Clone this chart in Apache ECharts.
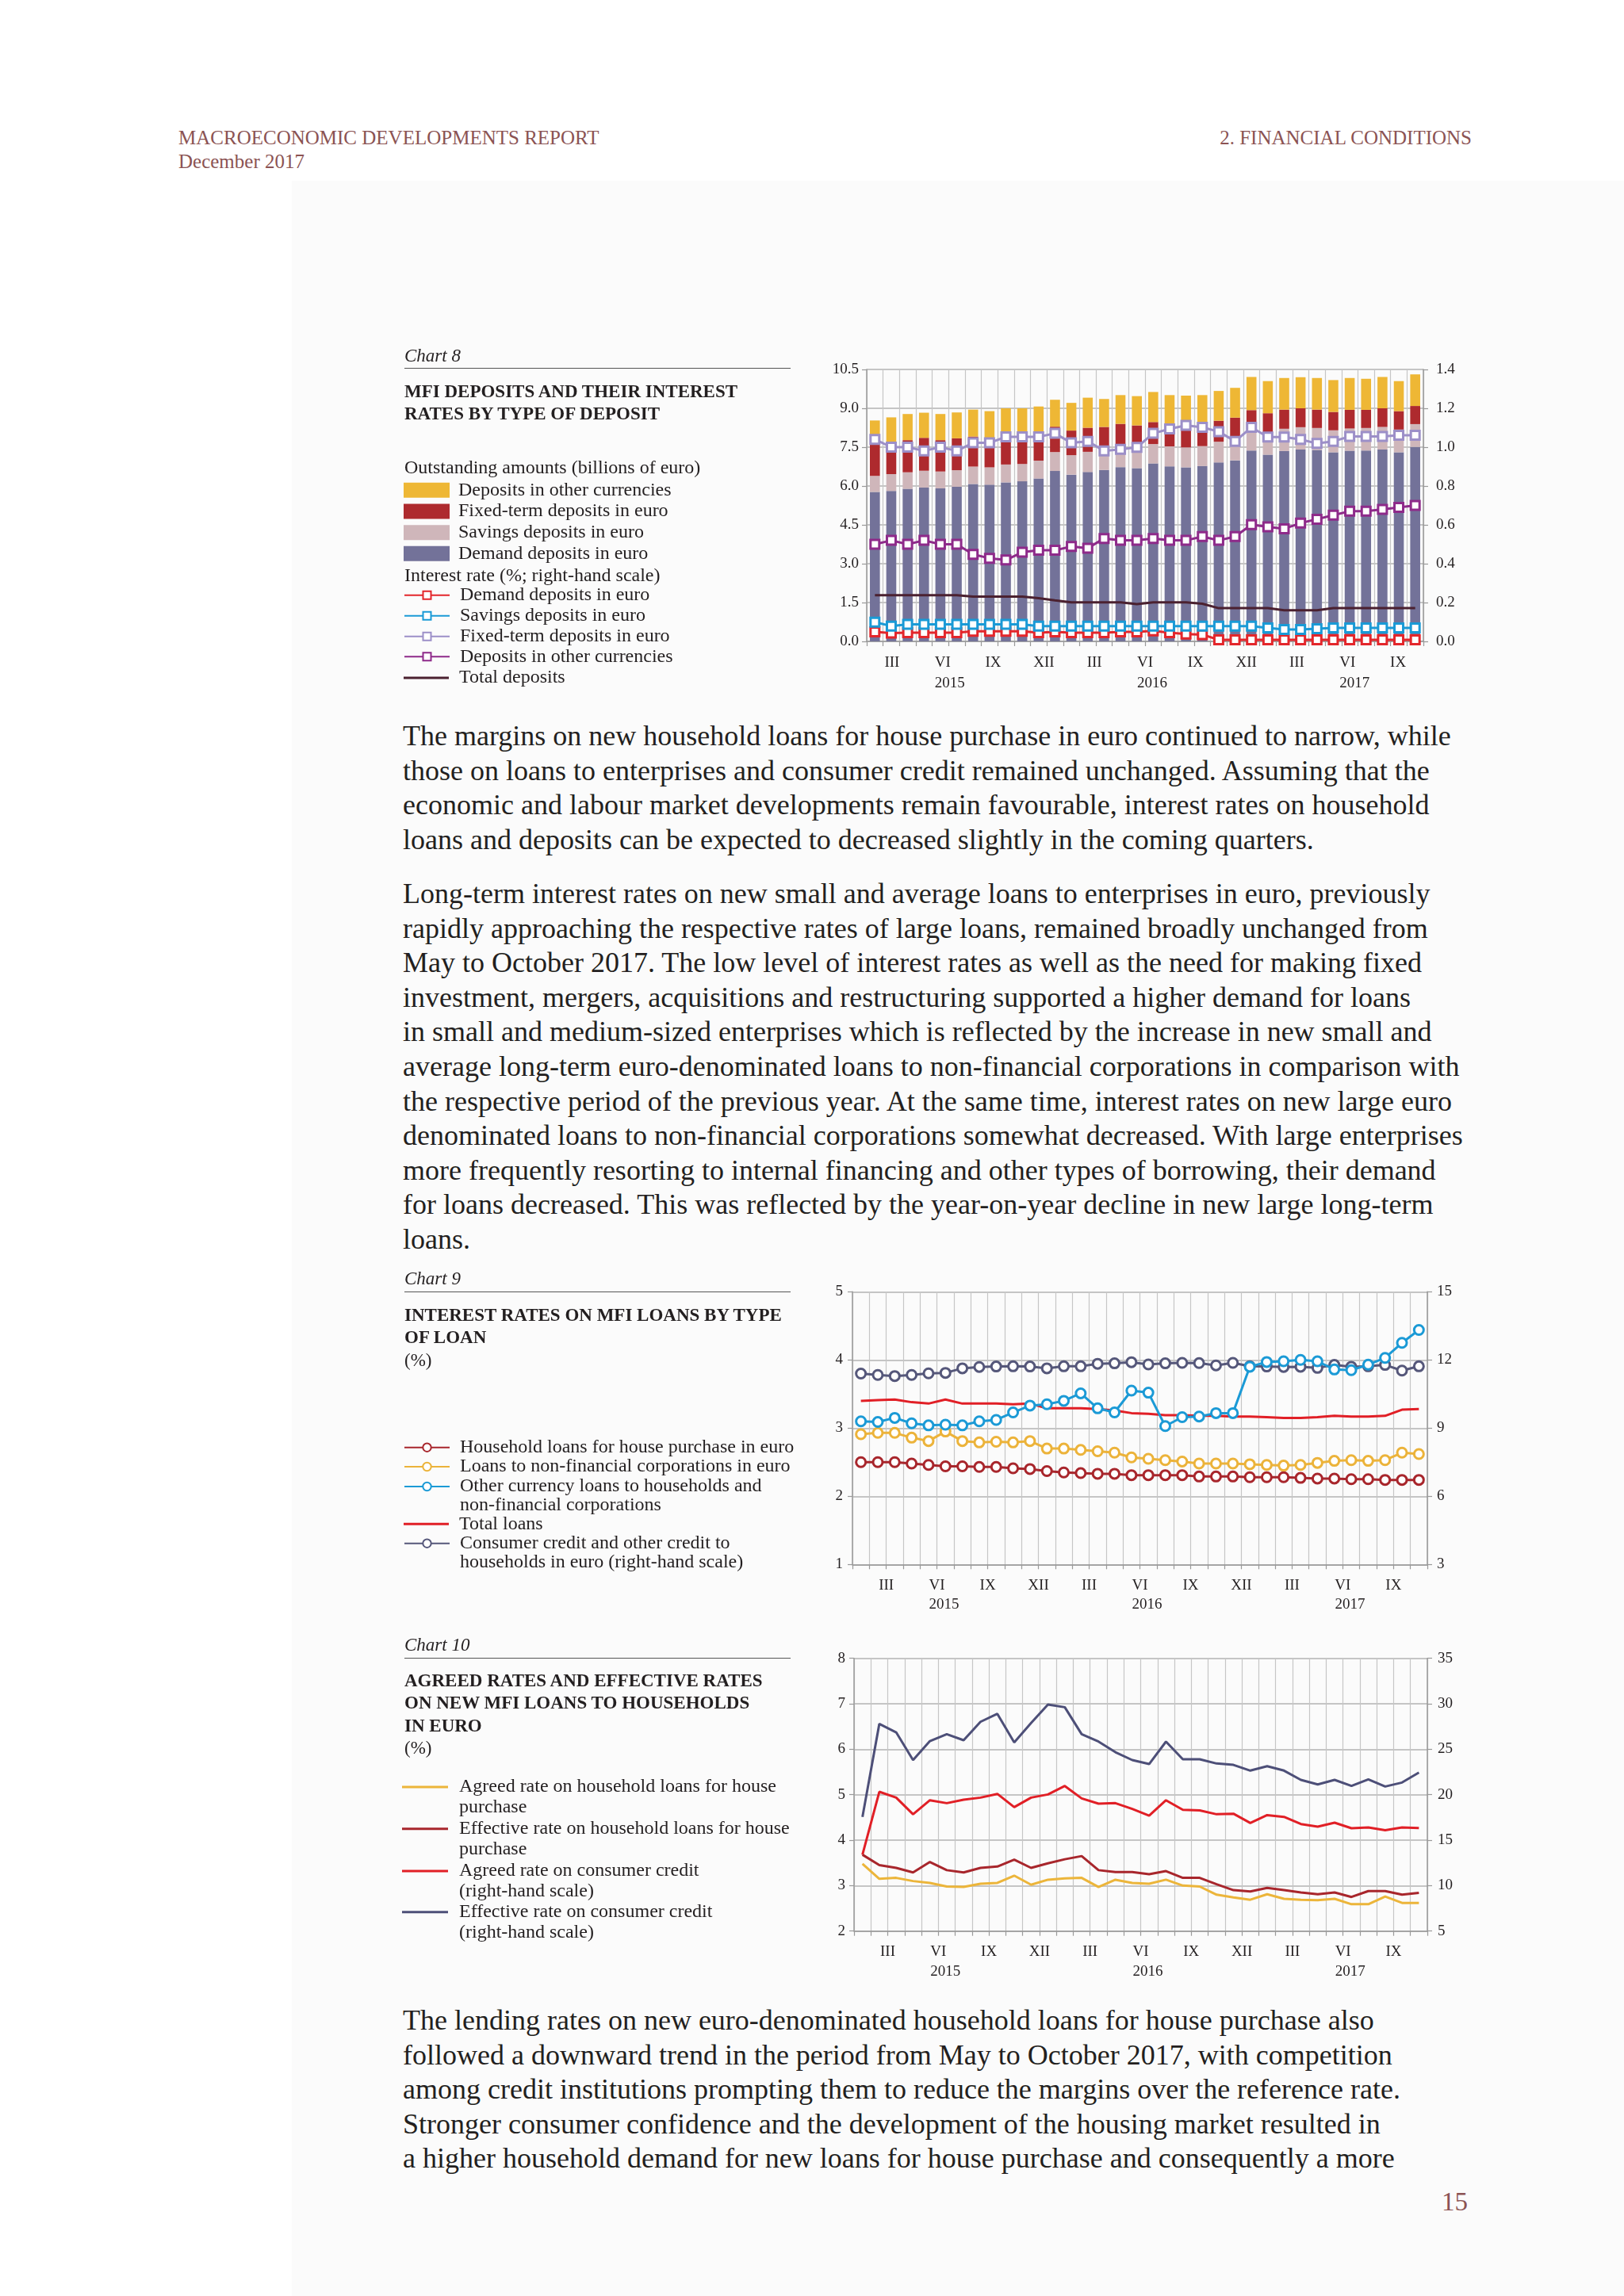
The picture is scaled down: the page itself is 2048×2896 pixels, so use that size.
<!DOCTYPE html>
<html><head><meta charset="utf-8">
<script src="https://cdn.jsdelivr.net/npm/echarts@6/dist/echarts.min.js"></script>
<style>
html,body{margin:0;padding:0;background:#fff;}
body{width:2048px;height:2896px;position:relative;overflow:hidden;font-family:"Liberation Serif","Times New Roman",serif;color:#231f20;}
.bg{position:absolute;left:368px;top:228px;right:0;bottom:0;background:#fbfbfb;z-index:0;}
.t{position:absolute;white-space:nowrap;z-index:3;}
.hdr{font-size:25px;line-height:30px;color:#8b5353;}
.cap{font-size:23px;line-height:28px;font-style:italic;}
.ttl{font-size:23px;line-height:28.4px;font-weight:bold;}
.ttl span{font-weight:normal;}
.rule{position:absolute;left:510px;width:487px;height:0;border-top:1.5px solid #555;z-index:3;}
.lg{font-size:24px;line-height:26px;}
.body{font-size:36px;line-height:43.6px;left:508px;}
.ch{position:absolute;left:0;width:2048px;height:460px;z-index:2;}
</style></head><body>
<div class="bg"></div>
<div class="t hdr" style="left:225px;top:159px;">MACROECONOMIC DEVELOPMENTS REPORT</div>
<div class="t hdr" style="left:225px;top:189px;">December 2017</div>
<div class="t hdr" style="right:192px;top:159px;">2. FINANCIAL CONDITIONS</div>

<div class="t cap" style="left:510px;top:435px;">Chart 8</div>
<div class="rule" style="top:464px;"></div>
<div class="t ttl" style="left:510px;top:480px;">MFI DEPOSITS AND THEIR INTEREST<br>RATES BY TYPE OF DEPOSIT</div>
<div class="t lg" style="left:510px;top:576px;">Outstanding amounts (billions of euro)</div>
<div class="t lg" style="left:510px;top:712px;">Interest rate (%; right-hand scale)</div>

<div class="t body" style="top:907px;">The margins on new household loans for house purchase in euro continued to narrow, while<br>those on loans to enterprises and consumer credit remained unchanged. Assuming that the<br>economic and labour market developments remain favourable, interest rates on household<br>loans and deposits can be expected to decreased slightly in the coming quarters.</div>
<div class="t body" style="top:1106px;">Long-term interest rates on new small and average loans to enterprises in euro, previously<br>rapidly approaching the respective rates of large loans, remained broadly unchanged from<br>May to October 2017. The low level of interest rates as well as the need for making fixed<br>investment, mergers, acquisitions and restructuring supported a higher demand for loans<br>in small and medium-sized enterprises which is reflected by the increase in new small and<br>average long-term euro-denominated loans to non-financial corporations in comparison with<br>the respective period of the previous year. At the same time, interest rates on new large euro<br>denominated loans to non-financial corporations somewhat decreased. With large enterprises<br>more frequently resorting to internal financing and other types of borrowing, their demand<br>for loans decreased. This was reflected by the year-on-year decline in new large long-term<br>loans.</div>

<div class="t cap" style="left:510px;top:1599px;">Chart 9</div>
<div class="rule" style="top:1629px;"></div>
<div class="t ttl" style="left:510px;top:1645px;">INTEREST RATES ON MFI LOANS BY TYPE<br>OF LOAN<br><span>(%)</span></div>

<div class="t cap" style="left:510px;top:2061px;">Chart 10</div>
<div class="rule" style="top:2091px;"></div>
<div class="t ttl" style="left:510px;top:2106px;">AGREED RATES AND EFFECTIVE RATES<br>ON NEW MFI LOANS TO HOUSEHOLDS<br>IN EURO<br><span>(%)</span></div>

<div class="t body" style="top:2527px;">The lending rates on new euro-denominated household loans for house purchase also<br>followed a downward trend in the period from May to October 2017, with competition<br>among credit institutions prompting them to reduce the margins over the reference rate.<br>Stronger consumer confidence and the development of the housing market resulted in<br>a higher household demand for new loans for house purchase and consequently a more</div>
<div class="t hdr" style="right:197px;top:2757px;font-size:33px;line-height:40px;">15</div>

<div id="c8" class="ch" style="top:430px;"></div>
<div id="c9" class="ch" style="top:1590px;"></div>
<div id="c10" class="ch" style="top:2050px;"></div>

<script>
// ---------- shared categories / tick labels ----------
const months = ['2015-01','2015-02','2015-03','2015-04','2015-05','2015-06','2015-07','2015-08','2015-09','2015-10','2015-11','2015-12',
  '2016-01','2016-02','2016-03','2016-04','2016-05','2016-06','2016-07','2016-08','2016-09','2016-10','2016-11','2016-12',
  '2017-01','2017-02','2017-03','2017-04','2017-05','2017-06','2017-07','2017-08','2017-09','2017-10'];
const quarterLabels = ['III','VI','IX','XII','III','VI','IX','XII','III','VI','IX'];
const yearLabels = ['','2015','','','','2016','','','','2017',''];

// ---------- Chart 8: deposits (billions of euro) ----------
const demandDeposits = [5.77,5.81,5.89,5.94,5.91,5.97,6.08,6.05,6.14,6.18,6.29,6.58,6.44,6.54,6.62,6.73,6.69,6.87,6.76,6.72,6.77,6.91,6.99,7.37,7.21,7.35,7.41,7.39,7.30,7.36,7.37,7.41,7.30,7.51];
const savingsDeposits = [0.62,0.65,0.64,0.65,0.65,0.64,0.67,0.67,0.69,0.67,0.69,0.73,0.75,0.78,0.70,0.72,0.72,0.75,0.77,0.77,0.77,0.80,0.88,0.83,0.85,0.86,0.86,0.85,0.85,0.86,0.87,0.87,0.88,0.88];
const fixedDeposits = [1.54,1.24,1.24,1.27,1.21,1.23,1.16,1.11,1.25,1.20,1.10,0.98,0.95,0.93,0.96,0.95,0.93,0.85,0.84,0.81,0.76,0.81,0.77,0.73,0.75,0.74,0.73,0.71,0.71,0.72,0.70,0.72,0.71,0.70];
const otherCurDeposits = [0.60,0.95,1.01,0.97,1.01,1.00,1.04,1.06,0.92,0.95,0.99,1.04,1.07,1.16,1.08,1.11,1.13,1.16,1.14,1.19,1.21,1.15,1.15,1.28,1.24,1.22,1.20,1.22,1.23,1.23,1.20,1.21,1.16,1.22];
// interest rates (%; right-hand scale)
const rateDemand = [0.049,0.043,0.045,0.045,0.045,0.045,0.052,0.052,0.052,0.052,0.045,0.049,0.045,0.045,0.045,0.049,0.049,0.054,0.045,0.038,0.035,0.008,0.008,0.008,0.008,0.008,0.008,0.008,0.008,0.008,0.008,0.008,0.008,0.008];
const rateSavings = [0.099,0.079,0.088,0.088,0.088,0.088,0.088,0.088,0.088,0.088,0.079,0.079,0.079,0.079,0.079,0.079,0.079,0.079,0.079,0.079,0.079,0.079,0.079,0.079,0.069,0.061,0.061,0.065,0.069,0.069,0.069,0.069,0.069,0.069];
const rateFixed = [1.040,1.000,1.000,0.981,1.000,0.981,1.022,1.022,1.053,1.053,1.053,1.071,1.022,1.030,0.981,0.989,0.999,1.071,1.094,1.112,1.102,1.080,1.030,1.102,1.052,1.052,1.040,1.019,1.030,1.055,1.055,1.055,1.061,1.061];
const rateOtherCur = [0.500,0.520,0.500,0.520,0.500,0.500,0.448,0.428,0.419,0.459,0.469,0.469,0.489,0.480,0.530,0.520,0.520,0.530,0.520,0.520,0.540,0.520,0.540,0.601,0.590,0.580,0.609,0.629,0.650,0.670,0.670,0.680,0.690,0.700];
const rateTotal = [0.238,0.238,0.238,0.238,0.238,0.238,0.231,0.231,0.231,0.231,0.222,0.211,0.201,0.201,0.201,0.201,0.192,0.201,0.201,0.201,0.194,0.171,0.171,0.171,0.171,0.160,0.160,0.160,0.171,0.171,0.171,0.171,0.171,0.171];

// ---------- Chart 9: interest rates on loans (%) ----------
const houseLoans = [2.50,2.50,2.50,2.48,2.46,2.44,2.44,2.43,2.43,2.41,2.40,2.37,2.35,2.34,2.33,2.33,2.31,2.31,2.31,2.31,2.29,2.29,2.29,2.28,2.28,2.28,2.27,2.26,2.26,2.25,2.25,2.24,2.24,2.24];
const nfcLoans = [2.91,2.93,2.93,2.86,2.81,2.95,2.81,2.79,2.80,2.79,2.81,2.70,2.70,2.68,2.66,2.64,2.57,2.55,2.53,2.51,2.48,2.48,2.48,2.47,2.46,2.45,2.46,2.49,2.52,2.53,2.52,2.53,2.64,2.62];
const otherCurLoans = [3.10,3.09,3.15,3.07,3.04,3.05,3.04,3.10,3.12,3.23,3.33,3.35,3.40,3.51,3.29,3.23,3.55,3.52,3.03,3.16,3.17,3.22,3.22,3.90,3.97,3.98,4.00,3.98,3.86,3.85,3.93,4.03,4.25,4.44];
const totalLoans = [3.40,3.41,3.42,3.38,3.36,3.42,3.36,3.36,3.36,3.35,3.36,3.29,3.29,3.29,3.28,3.26,3.22,3.21,3.19,3.19,3.18,3.18,3.17,3.17,3.16,3.15,3.15,3.16,3.18,3.17,3.17,3.18,3.27,3.28];
const consumerCredit = [11.40,11.34,11.29,11.34,11.41,11.43,11.63,11.69,11.71,11.72,11.71,11.63,11.72,11.72,11.83,11.85,11.90,11.80,11.85,11.87,11.86,11.76,11.87,11.72,11.71,11.69,11.70,11.65,11.78,11.70,11.72,11.78,11.53,11.72];

// ---------- Chart 10: agreed and effective rates (%) ----------
const agreedHouse = [3.48,3.15,3.17,3.10,3.06,2.98,2.97,3.04,3.06,3.22,3.02,3.13,3.16,3.17,2.97,3.13,3.06,3.04,3.13,3.00,2.98,2.80,2.74,2.69,2.81,2.71,2.69,2.68,2.71,2.59,2.59,2.76,2.62,2.62];
const effectiveHouse = [3.68,3.45,3.39,3.29,3.52,3.34,3.29,3.39,3.42,3.57,3.39,3.49,3.58,3.65,3.34,3.30,3.30,3.25,3.32,3.17,3.17,3.03,2.90,2.87,2.95,2.90,2.85,2.81,2.85,2.75,2.88,2.88,2.80,2.84];
const agreedConsumer = [13.40,20.32,19.68,17.85,19.39,19.07,19.45,19.68,20.09,18.63,19.68,20.03,20.96,19.59,19.01,19.07,18.43,17.70,19.39,18.34,18.28,17.85,17.91,16.89,17.76,17.56,16.77,16.48,16.92,16.31,16.40,16.10,16.40,16.34];
const effectiveConsumer = [17.56,27.79,26.86,23.81,25.90,26.66,25.99,28.02,28.90,25.76,27.88,29.91,29.62,26.66,25.84,24.68,23.81,23.37,25.84,23.90,23.90,23.43,23.28,22.65,23.14,22.65,21.63,21.13,21.63,20.96,21.69,20.90,21.34,22.44];

// ---------- helpers ----------
const FONT = '"Liberation Serif","Times New Roman",serif';
const TXT = '#231f20';
const AX = '#9a9a9a';

function tickText(q, y) { return y ? q + '\n' + y : q; }
// quarter labels spread evenly over the plot (chart 8)
const slots8 = quarterLabels.map((q, i) => tickText(q, yearLabels[i]));
// quarter labels on month boundaries (charts 9, 10)
const slotsBoundary = new Array(months.length + 1).fill('');
quarterLabels.forEach((q, i) => { slotsBoundary[2 + 3 * i] = tickText(q, yearLabels[i]); });

function labelAxis(data, boundaryGap, margin, lh) {
  return {
    type: 'category', data: data, position: 'bottom', boundaryGap: boundaryGap,
    axisLine: {show: false}, axisTick: {show: false}, splitLine: {show: false},
    axisLabel: {
      interval: 0, margin: margin, hideOverlap: false,
      formatter: v => {
        if (!v) return '';
        const p = v.split('\n');
        return p.length > 1 ? '{q|' + p[0] + '}\n{y|' + p[1] + '}' : '{q|' + p[0] + '}';
      },
      rich: {
        q: {fontFamily: FONT, fontSize: 19, lineHeight: lh, color: TXT},
        y: {fontFamily: FONT, fontSize: 19, lineHeight: lh, color: TXT, padding: [0, 0, 0, 18]}
      }
    }
  };
}
function monthAxis() {
  return {
    type: 'category', data: months, boundaryGap: true, position: 'bottom',
    axisLine: {show: true, lineStyle: {color: AX, width: 1.5}},
    axisTick: {show: true, interval: 0, length: 6, lineStyle: {color: AX, width: 1.2}},
    axisLabel: {show: false},
    splitLine: {show: true, interval: 0, lineStyle: {color: '#c6c6c6', width: 1.2}}
  };
}
function valAxis(min, max, interval, pos, margin, decimals, split) {
  return {
    type: 'value', min: min, max: max, interval: interval, position: pos,
    axisLine: {show: true, lineStyle: {color: AX, width: 1.5}},
    axisTick: {show: true, length: 6, lineStyle: {color: AX, width: 1.2}},
    axisLabel: {margin: margin, fontFamily: FONT, fontSize: 19, color: TXT,
      formatter: v => v.toFixed(decimals)},
    splitLine: {show: split, lineStyle: {color: '#b3b3b3', width: 1.6}}
  };
}
// one legend component per entry so each row sits exactly where the reference puts it;
// multi-line names get an empty leading line so the icon lines up with the first text line
function legendItem(name, left, top, o) {
  const l = {
    data: [name], left: left, top: top, orient: 'vertical', padding: 0, itemGap: 0,
    itemWidth: o.w, itemHeight: o.h, selectedMode: false,
    textStyle: {fontFamily: FONT, fontSize: 24, color: TXT, lineHeight: o.lh, padding: o.pad},
    formatter: n => {
      const t = n.split('|')[0];
      return t.indexOf('\n') >= 0 ? '\u00a0\n' + t : t;
    }
  };
  if (o.icon) l.icon = o.icon;
  return l;
}
function markLine(name, data, color, symbol, size, yIdx, z) {
  const s = {
    name: name, type: 'line', data: data, yAxisIndex: yIdx, z: z || 3,
    lineStyle: {color: color, width: 3}, itemStyle: {color: color},
    symbol: 'none', animation: false
  };
  if (symbol) {
    s.symbol = symbol; s.symbolSize = size; s.showSymbol = true;
    s.itemStyle = {color: '#ffffff', borderColor: color, borderWidth: 3};
  }
  return s;
}

// ---------- Chart 8 ----------
const C8 = {other: '#eeb735', fixed: '#ae2a2e', savings: '#cfb6ba', demand: '#737299',
  rDemand: '#e3262b', rSavings: '#1a9ad6', rFixed: '#9c8fc8', rOther: '#8e2a8a', rTotal: '#4b2130'};
const n8 = {other: 'Deposits in other currencies', fixed: 'Fixed-term deposits in euro',
  savings: 'Savings deposits in euro', demand: 'Demand deposits in euro'};
function bar(name, data, color) {
  return {name: name, type: 'bar', stack: 'dep', data: data, barWidth: '61%',
    itemStyle: {color: color}, z: 2, animation: false};
}
const ch8 = echarts.init(document.getElementById('c8'), null, {renderer: 'canvas'});
const T8 = 430;
const barLg = {w: 58, h: 19, lh: 26, pad: [0, 0, 0, 6], icon: 'rect'};
const lineLg = {w: 57, h: 12.5, lh: 26, pad: [0, 0, 0, 8]};
ch8.setOption({
  animation: false, backgroundColor: 'transparent',
  textStyle: {fontFamily: FONT},
  grid: {left: 1093, right: 253, top: 36, height: 343, containLabel: false, outerBoundsMode: 'none'},
  xAxis: [monthAxis(), labelAxis(slots8, true, 14.6, 25.6)],
  yAxis: [valAxis(0, 10.5, 1.5, 'left', 10, 1, true), valAxis(0, 1.4, 0.2, 'right', 16, 1, false)],
  legend: [
    legendItem(n8.other, 509, 618.3 - 13 - T8, barLg),
    legendItem(n8.fixed, 509, 645 - 13 - T8, barLg),
    legendItem(n8.savings, 509, 671.7 - 13 - T8, barLg),
    legendItem(n8.demand, 509, 698.3 - 13 - T8, barLg),
    legendItem(n8.demand + '|rate', 509, 750.7 - 13 - T8, lineLg),
    legendItem(n8.savings + '|rate', 509, 776.7 - 13 - T8, lineLg),
    legendItem(n8.fixed + '|rate', 509, 802.7 - 13 - T8, lineLg),
    legendItem(n8.other + '|rate', 509, 828.3 - 13 - T8, lineLg),
    legendItem('Total deposits', 509, 855 - 13 - T8, {w: 57, h: 3, lh: 26, pad: [0, 0, 0, 8], icon: 'rect'})
  ],
  series: [
    bar(n8.demand, demandDeposits, C8.demand),
    bar(n8.savings, savingsDeposits, C8.savings),
    bar(n8.fixed, fixedDeposits, C8.fixed),
    bar(n8.other, otherCurDeposits, C8.other),
    markLine('Total deposits', rateTotal, C8.rTotal, null, 0, 1, 3),
    markLine(n8.demand + '|rate', rateDemand, C8.rDemand, 'rect', 11, 1, 4),
    markLine(n8.savings + '|rate', rateSavings, C8.rSavings, 'rect', 11, 1, 4),
    markLine(n8.fixed + '|rate', rateFixed, C8.rFixed, 'rect', 11, 1, 4),
    markLine(n8.other + '|rate', rateOtherCur, C8.rOther, 'rect', 11, 1, 4)
  ]
});

// ---------- Chart 9 ----------
const n9 = {
  house: 'Household loans for house purchase in euro',
  nfc: 'Loans to non-financial corporations in euro',
  other: 'Other currency loans to households and\nnon-financial corporations',
  total: 'Total loans',
  consumer: 'Consumer credit and other credit to\nhouseholds in euro (right-hand scale)'
};
const ch9 = echarts.init(document.getElementById('c9'), null, {renderer: 'canvas'});
const T9 = 1590, L9 = 24;
const l9 = {w: 57, h: 13, lh: L9, pad: [0, 0, 0, 8]};
ch9.setOption({
  animation: false, backgroundColor: 'transparent',
  textStyle: {fontFamily: FONT},
  grid: {left: 1075, right: 248, top: 39.3, height: 344, containLabel: false, outerBoundsMode: 'none'},
  xAxis: [monthAxis(), labelAxis(slotsBoundary, false, 14.7, 24)],
  yAxis: [valAxis(1, 5, 1, 'left', 12, 0, true), valAxis(3, 15, 3, 'right', 12, 0, false)],
  legend: [
    legendItem(n9.house, 509, 1825.7 - L9 / 2 - T9, l9),
    legendItem(n9.nfc, 509, 1850 - L9 / 2 - T9, l9),
    legendItem(n9.other, 509, 1875 - 1.5 * L9 - T9, l9),
    legendItem(n9.total, 509, 1922.3 - L9 / 2 - T9, {w: 57, h: 3, lh: L9, pad: [0, 0, 0, 8], icon: 'rect'}),
    legendItem(n9.consumer, 509, 1946.7 - 1.5 * L9 - T9, l9)
  ],
  series: [
    markLine(n9.consumer, consumerCredit, '#55577a', 'circle', 12, 1, 3),
    markLine(n9.total, totalLoans, '#e11f26', null, 0, 0, 3),
    markLine(n9.house, houseLoans, '#a8262c', 'circle', 12, 0, 4),
    markLine(n9.nfc, nfcLoans, '#ecb33a', 'circle', 12, 0, 4),
    markLine(n9.other, otherCurLoans, '#1b9ad6', 'circle', 12, 0, 5)
  ]
});

// ---------- Chart 10 ----------
const n10 = {
  agreedHouse: 'Agreed rate on household loans for house\npurchase',
  effHouse: 'Effective rate on household loans for house\npurchase',
  agreedCons: 'Agreed rate on consumer credit\n(right-hand scale)',
  effCons: 'Effective rate on consumer credit\n(right-hand scale)'
};
const ch10 = echarts.init(document.getElementById('c10'), null, {renderer: 'canvas'});
const T10 = 2050, L10 = 26;
const l10 = {w: 58, h: 3, lh: L10, pad: [0, 0, 0, 9], icon: 'rect'};
ch10.setOption({
  animation: false, backgroundColor: 'transparent',
  textStyle: {fontFamily: FONT},
  grid: {left: 1077, right: 248, top: 41.7, height: 344, containLabel: false, outerBoundsMode: 'none'},
  xAxis: [monthAxis(), labelAxis(slotsBoundary, false, 13.5, 25)],
  yAxis: [valAxis(2, 8, 1, 'left', 11, 0, true), valAxis(5, 35, 5, 'right', 13, 0, false)],
  legend: [
    legendItem(n10.agreedHouse, 507, 2254 - 1.5 * L10 - T10, l10),
    legendItem(n10.effHouse, 507, 2306.7 - 1.5 * L10 - T10, l10),
    legendItem(n10.agreedCons, 507, 2360 - 1.5 * L10 - T10, l10),
    legendItem(n10.effCons, 507, 2411.7 - 1.5 * L10 - T10, l10)
  ],
  series: [
    markLine(n10.effCons, effectiveConsumer, '#4d4f78', null, 0, 1, 3),
    markLine(n10.agreedCons, agreedConsumer, '#e11f26', null, 0, 1, 3),
    markLine(n10.effHouse, effectiveHouse, '#a8262c', null, 0, 0, 3),
    markLine(n10.agreedHouse, agreedHouse, '#ecb53a', null, 0, 0, 4)
  ]
});
</script>
</body></html>
